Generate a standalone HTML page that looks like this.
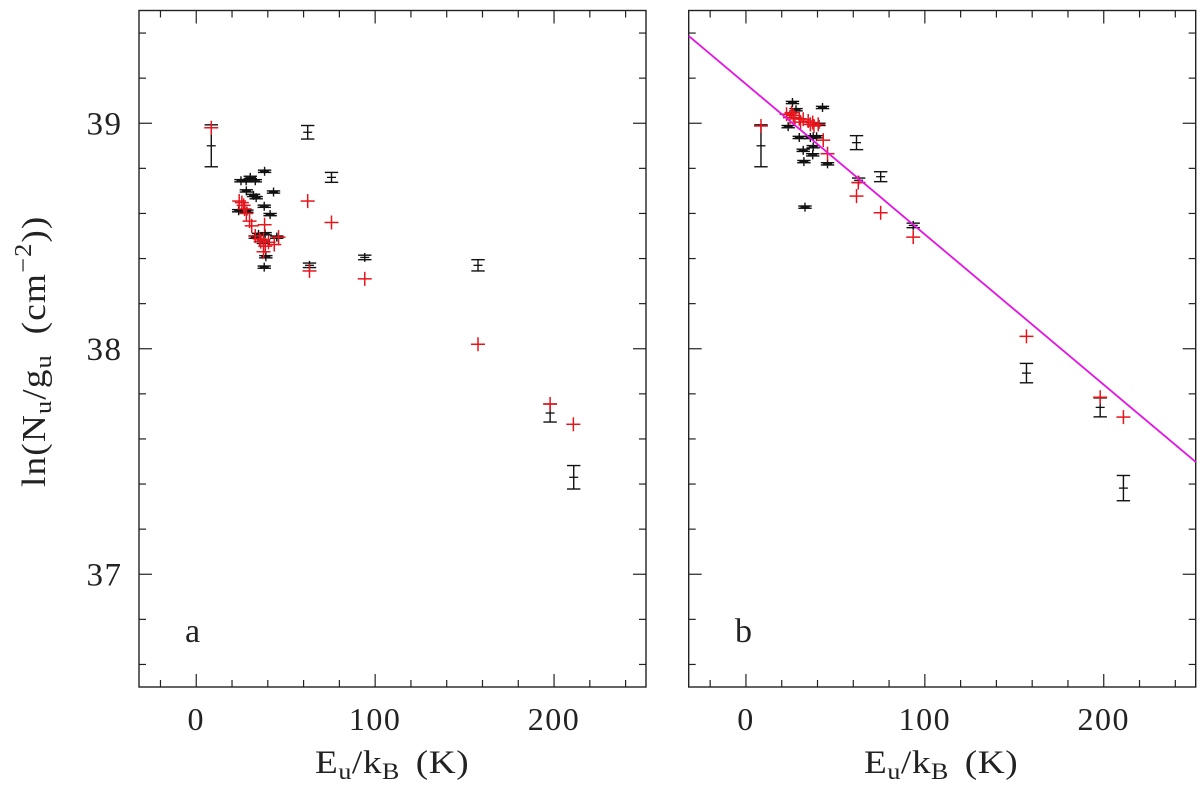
<!DOCTYPE html>
<html>
<head>
<meta charset="utf-8">
<title>Rotation diagrams</title>
<style>
html,body{margin:0;padding:0;background:#fff;}
svg{display:block;}
text{font-family:"Liberation Serif",serif;fill:#222;}
</style>
</head>
<body>
<svg id="chart" width="1200" height="785" viewBox="0 0 1200 785" xmlns="http://www.w3.org/2000/svg">
<text transform="translate(45,487) rotate(-90) scale(1.1,1)" font-size="34" letter-spacing="1">ln(N<tspan font-size="24" dy="6">u</tspan><tspan dy="-6">/g</tspan><tspan font-size="24" dy="6">u</tspan><tspan dy="-6" dx="18">(cm</tspan><tspan font-size="24" dy="-14">−2</tspan><tspan dy="14">))</tspan></text>
<text transform="translate(315,773) scale(1.13,1)" font-size="33" letter-spacing="0.5">E<tspan font-size="23" dy="6">u</tspan><tspan dy="-6">/k</tspan><tspan font-size="23" dy="6">B</tspan><tspan dy="-6" dx="14">(K)</tspan></text>
<text transform="translate(864,773) scale(1.13,1)" font-size="33" letter-spacing="0.5">E<tspan font-size="23" dy="6">u</tspan><tspan dy="-6">/k</tspan><tspan font-size="23" dy="6">B</tspan><tspan dy="-6" dx="14">(K)</tspan></text>
<text x="185" y="642" font-size="34">a</text>
<text x="735" y="642" font-size="34">b</text>
</svg>
<script>
var xDomain = [-32, 251.4];
var yDomain = [36.5, 39.5];
var xMajorTicks = [0, 100, 200];
var xMinorTicks = [-20, 20, 40, 60, 80, 120, 140, 160, 180, 220, 240];
var yMajorTicks = [37, 38, 39];
var yMinorTicks = [36.6, 36.8, 37.2, 37.4, 37.6, 37.8, 38.2, 38.4, 38.6, 38.8, 39.2, 39.4];

var aBlackX = [8.4, 62.3, 75.6, 94.2, 63.3, 157.5, 197.8, 211, 38.2, 30.2, 27.9, 25, 33, 43.2, 28, 32, 33.5, 38, 41.3, 23.7, 28.3, 34.8, 38.5, 45, 37.5, 38.9, 38, 33];
var aBlackY = [38.9, 38.96, 38.76, 38.405, 38.37, 38.37, 37.715, 37.43, 38.787, 38.76, 38.745, 38.745, 38.745, 38.695, 38.7, 38.68, 38.67, 38.632, 38.595, 38.612, 38.61, 38.507, 38.51, 38.495, 38.472, 38.408, 38.362, 38.495];
var aBlackErr = [0.093, 0.03, 0.022, 0.01, 0.01, 0.025, 0.04, 0.052, 0.005, 0.005, 0.005, 0.005, 0.005, 0.005, 0.005, 0.005, 0.005, 0.005, 0.005, 0.005, 0.005, 0.005, 0.005, 0.005, 0.005, 0.005, 0.005, 0.005];
var aRedX = [8.4, 62.3, 75.6, 94.2, 63.3, 157.5, 197.8, 210.8, 24, 25.5, 26.5, 28, 29.8, 38.2, 33, 35.4, 37.6, 40.4, 43.6, 46, 38.6, 37.6, 27, 31, 36];
var aRedY = [38.98, 38.655, 38.56, 38.31, 38.345, 38.02, 37.755, 37.665, 38.655, 38.648, 38.636, 38.6, 38.566, 38.55, 38.5, 38.487, 38.484, 38.472, 38.462, 38.495, 38.455, 38.43, 38.62, 38.545, 38.475];

var bBlackX = [8.4, 26, 28, 42.8, 23.6, 40.8, 29.8, 37.6, 39.5, 36, 32, 37.6, 37.3, 32.4, 45.6, 33, 61.8, 75.3, 63, 93.5, 156.8, 198, 211];
var bBlackY = [38.9, 39.092, 39.06, 39.07, 38.985, 38.995, 38.937, 38.94, 38.94, 38.937, 38.88, 38.896, 38.86, 38.83, 38.82, 38.628, 38.914, 38.763, 38.747, 38.547, 37.892, 37.74, 37.382];
var bBlackErr = [0.093, 0.005, 0.005, 0.005, 0.005, 0.005, 0.005, 0.005, 0.005, 0.005, 0.005, 0.005, 0.005, 0.005, 0.005, 0.005, 0.031, 0.022, 0.01, 0.01, 0.043, 0.042, 0.056];
var bRedX = [8.4, 22.7, 25.5, 24.6, 27.4, 29.8, 32, 34.8, 37.3, 38, 40.4, 43.2, 45.6, 61.8, 62.8, 75.3, 93.5, 156.8, 198, 211, 26.5, 30.5, 36];
var bRedY = [38.988, 39.04, 39.047, 39.025, 39.025, 39.02, 39.018, 39.01, 39.003, 38.988, 38.995, 38.925, 38.865, 38.677, 38.737, 38.603, 38.495, 38.055, 37.785, 37.697, 39.035, 39.005, 38.995];

var fitLineX = [-32, 251.4];
var fitLineY = [39.387, 37.498];

var NS = 'http://www.w3.org/2000/svg';
var svg = document.getElementById('chart');
var TOP = 10.5, BOTTOM = 687;

function line(parent, x1, y1, x2, y2, color, width) {
  var l = document.createElementNS(NS, 'line');
  l.setAttribute('x1', x1);
  l.setAttribute('y1', y1);
  l.setAttribute('x2', x2);
  l.setAttribute('y2', y2);
  l.setAttribute('stroke', color);
  l.setAttribute('stroke-width', width);
  parent.appendChild(l);
  return l;
}
function yScale(v) {
  return BOTTOM - (v - yDomain[0]) / (yDomain[1] - yDomain[0]) * (BOTTOM - TOP);
}
function drawPanel(panelName, left, right, blackX, blackY, blackErr, redX, redY, showYLabels) {
  function xScale(v) {
    return left + (v - xDomain[0]) / (xDomain[1] - xDomain[0]) * (right - left);
  }
  var g = document.createElementNS(NS, 'g');
  
  
  svg.appendChild(g);

  var frame = document.createElementNS(NS, 'rect');
  
  
  frame.setAttribute('x', left);
  frame.setAttribute('y', TOP);
  frame.setAttribute('width', right - left);
  frame.setAttribute('height', BOTTOM - TOP);
  frame.setAttribute('fill', 'none');
  frame.setAttribute('stroke', '#222');
  frame.setAttribute('stroke-width', 1.4);
  g.appendChild(frame);

  var ticks = document.createElementNS(NS, 'g');
  
  
  g.appendChild(ticks);
  function xTicks(list, len) {
    list.forEach(function (v) {
      var x = xScale(v);
      line(ticks, x, BOTTOM, x, BOTTOM - len, '#222', 1.2);
      line(ticks, x, TOP, x, TOP + len, '#222', 1.2);
    });
  }
  function yTicks(list, len) {
    list.forEach(function (v) {
      var y = yScale(v);
      line(ticks, left, y, left + len, y, '#222', 1.2);
      line(ticks, right, y, right - len, y, '#222', 1.2);
    });
  }
  xTicks(xMajorTicks, 13);
  xTicks(xMinorTicks, 7);
  yTicks(yMajorTicks, 13);
  yTicks(yMinorTicks, 7);

  xMajorTicks.forEach(function (v) {
    var t = document.createElementNS(NS, 'text');
    
    
    t.setAttribute('x', xScale(v));
    t.setAttribute('y', 730);
    t.setAttribute('font-size', 32);
    t.setAttribute('letter-spacing', 1.5);
    t.setAttribute('text-anchor', 'middle');
    t.textContent = String(v);
    g.appendChild(t);
  });
  if (showYLabels) {
    yMajorTicks.forEach(function (v) {
      var t = document.createElementNS(NS, 'text');
      
      
      t.setAttribute('x', 122.5);
      t.setAttribute('y', yScale(v) + 11);
      t.setAttribute('font-size', 33);
      t.setAttribute('letter-spacing', 1.5);
      t.setAttribute('text-anchor', 'end');
      t.textContent = String(v);
      g.appendChild(t);
    });
  }

  var blacks = document.createElementNS(NS, 'g');
  
  
  g.appendChild(blacks);
  blackX.forEach(function (v, i) {
    var p = document.createElementNS(NS, 'g');
    
    
    blacks.appendChild(p);
    var x = xScale(v), y = yScale(blackY[i]);
    var yTop = yScale(blackY[i] + blackErr[i]), yBot = yScale(blackY[i] - blackErr[i]);
    line(p, x, Math.min(yTop, y - 4.5), x, Math.max(yBot, y + 4.5), '#111', 1.4);
    line(p, x - 6.7, yTop, x + 6.7, yTop, '#111', 1.4);
    line(p, x - 6.7, yBot, x + 6.7, yBot, '#111', 1.4);
    line(p, x - 4.5, y, x + 4.5, y, '#111', 1.3);
  });

  var reds = document.createElementNS(NS, 'g');
  
  
  g.appendChild(reds);
  redX.forEach(function (v, i) {
    var p = document.createElementNS(NS, 'g');
    
    
    reds.appendChild(p);
    var x = xScale(v), y = yScale(redY[i]);
    line(p, x - 7, y, x + 7, y, '#e8141c', 1.5);
    line(p, x, y - 7, x, y + 7, '#e8141c', 1.5);
  });
  return xScale;
}

drawPanel('a', 139, 646, aBlackX, aBlackY, aBlackErr, aRedX, aRedY, true);
var xB = drawPanel('b', 688.7, 1195.7, bBlackX, bBlackY, bBlackErr, bRedX, bRedY, false);

var fit = document.createElementNS(NS, 'polyline');


fit.setAttribute('fill', 'none');
fit.setAttribute('stroke', '#e414e4');
fit.setAttribute('stroke-width', 1.8);
fit.setAttribute('points', fitLineX.map(function (v, i) {
  return xB(v) + ',' + yScale(fitLineY[i]);
}).join(' '));
svg.appendChild(fit);
</script>
</body>
</html>
